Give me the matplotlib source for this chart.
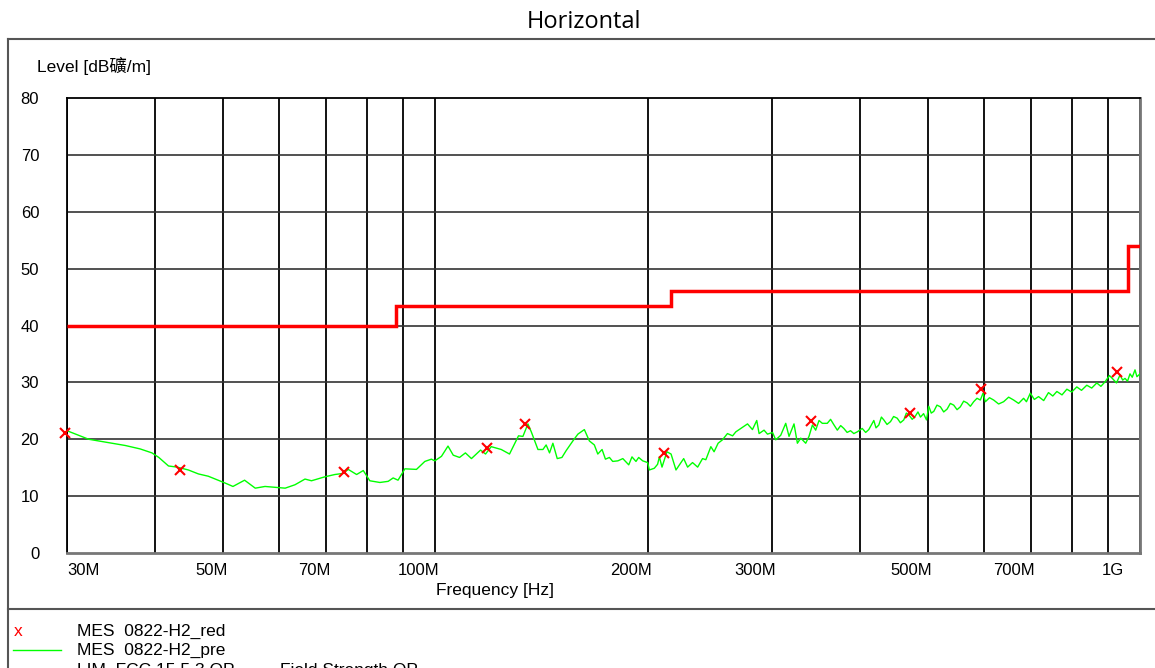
"""Horizontal radiated emission scan, 30 MHz - 1 GHz."""

import matplotlib

matplotlib.use("Agg")
import matplotlib.pyplot as plt
from matplotlib.lines import Line2D
from matplotlib.transforms import ScaledTranslation

# pre-scan trace (MHz, dB)
freq_mhz = [
    30.0, 32.2, 34.4, 36.3, 38.1, 39.6, 40.5, 41.8, 43.0, 44.6, 46.1, 47.6,
    50.3, 51.6, 53.6, 55.5, 56.7, 57.3, 61.2, 63.2, 65.3, 66.7, 69.7, 72.0,
    74.0, 75.2, 77.3, 79.0, 80.7, 83.4, 85.7, 87.1, 88.5, 90.5, 94.0, 96.6,
    98.7, 99.8, 102.0, 104.2, 106.0, 108.2, 110.3, 112.5, 115.9, 117.8,
    120.0, 124.0, 127.4, 131.2, 133.1, 135.3, 136.8, 139.8, 142.1, 143.6,
    145.2, 146.8, 148.9, 151.2, 153.3, 156.7, 159.3, 162.7, 165.4, 168.1,
    170.0, 172.4, 174.3, 176.6, 178.5, 181.5, 184.5, 188.1, 190.1, 192.6,
    194.3, 196.9, 200.1, 201.2, 204.5, 206.7, 207.9, 209.7, 213.1, 216.0,
    219.5, 225.1, 228.0, 231.7, 235.6, 239.4, 242.0, 246.0, 248.6, 251.9,
    255.5, 259.7, 264.1, 266.9, 271.3, 277.3, 281.8, 285.8, 288.0, 292.7,
    296.0, 300.9, 304.1, 309.1, 314.2, 317.6, 322.8, 326.4, 330.0, 335.4,
    339.0, 342.8, 346.5, 350.3, 354.1, 359.9, 363.8, 367.5, 371.9, 376.0,
    379.9, 384.0, 388.3, 392.5, 396.9, 403.4, 408.0, 412.2, 419.0, 422.0,
    425.9, 429.5, 432.9, 437.5, 442.5, 447.0, 452.3, 457.0, 462.1, 466.0,
    469.7, 475.0, 480.1, 484.0, 488.0, 493.0, 497.7, 501.4, 505.5, 509.7,
    515.0, 520.9, 526.5, 532.4, 538.0, 544.0, 550.0, 555.9, 562.0, 568.2,
    574.5, 580.7, 587.0, 593.5, 598.7, 603.3, 611.5, 619.8, 630.0, 640.4,
    651.0, 661.6, 672.5, 683.6, 690.0, 698.7, 708.0, 717.8, 730.0, 741.5,
    752.0, 762.1, 775.0, 787.4, 800.0, 813.4, 826.0, 840.4, 854.0, 868.3,
    880.0, 892.0, 905.0, 916.6, 926.0, 936.8, 945.0, 952.3, 960.0, 967.9,
    975.0, 983.8, 990.0, 1000.0,
]
level_db = [
    21.5, 20.0, 19.4, 18.9, 18.3, 17.6, 16.8, 15.3, 15.1, 14.6, 13.9, 13.5,
    12.3, 11.7, 12.8, 11.4, 11.6, 11.7, 11.4, 12.0, 13.0, 12.7, 13.4, 13.8,
    14.0, 14.7, 13.8, 14.5, 12.7, 12.4, 12.6, 13.2, 12.8, 14.8, 14.7, 16.1,
    16.5, 16.2, 17.0, 18.8, 17.2, 16.8, 17.6, 16.6, 18.1, 17.4,
    18.7, 18.2, 17.4, 20.6, 20.5, 22.7, 21.3, 18.2, 18.2, 19.0,
    17.6, 19.3, 16.6, 16.8, 18.0, 19.7, 20.9, 21.7, 19.7, 19.0,
    17.4, 18.2, 16.5, 16.8, 16.1, 16.2, 16.6, 15.5, 16.9, 16.1,
    16.8, 16.2, 15.9, 14.6, 14.9, 15.6, 16.9, 15.1, 17.8, 17.4,
    14.6, 16.6, 15.1, 15.9, 15.1, 16.6, 16.4, 18.7, 17.8, 19.3,
    19.9, 21.0, 20.6, 21.3, 21.9, 22.7, 21.7, 23.3, 21.0, 21.6,
    20.9, 21.2, 19.9, 20.7, 22.8, 20.5, 22.7, 19.3, 20.2, 19.3,
    20.5, 22.5, 21.6, 23.3, 22.8, 22.8, 23.5, 22.6, 21.6, 22.4,
    21.9, 21.2, 21.5, 21.0, 21.3, 21.9, 21.2, 21.7, 23.3, 22.0,
    22.5, 23.9, 23.4, 22.6, 23.1, 24.0, 23.7, 22.9, 23.4, 24.6,
    24.3, 23.5, 24.1, 24.8, 23.9, 24.5, 23.4, 25.8, 24.6, 24.9,
    26.0, 25.7, 24.8, 25.3, 26.3, 26.0, 25.2, 25.7, 26.7, 26.4,
    25.8, 26.6, 27.2, 26.9, 28.1, 26.6, 27.3, 26.9, 26.2, 26.6,
    27.4, 26.9, 26.3, 27.2, 26.6, 28.1, 27.0, 27.5, 26.8, 28.2,
    27.6, 28.4, 27.8, 28.8, 28.3, 29.2, 28.6, 29.5, 29.0, 29.9,
    29.3, 30.1, 31.2, 30.5, 29.9, 31.3, 30.4, 30.7, 30.2, 31.5,
    30.9, 32.2, 31.0, 31.5,
]

# final measurement points
marker_mhz = [29.8, 43.4, 74.1, 118.4, 134.0, 211.0, 341.0, 472.0, 595.0, 927.0]
marker_db = [21.1, 14.6, 14.2, 18.5, 22.7, 17.5, 23.2, 24.6, 28.8, 31.8]

# FCC 15 class B QP limit
limit_edges_mhz = [30, 88, 216, 960, 1000]
limit_db = [40, 43.5, 46, 54]

grid_mhz = [30, 40, 50, 60, 70, 80, 90, 100, 200, 300, 400, 500, 600, 700,
            800, 900, 1000]
tick_mhz = [30, 50, 70, 100, 200, 300, 500, 700, 1000]
tick_labels = ["30M", "50M", "70M", "100M", "200M", "300M", "500M", "700M", "1G"]

W, H = 1155, 668
SANS = ["Liberation Sans", "Noto Sans CJK SC", "DejaVu Sans"]
plt.rcParams["font.family"] = SANS
FS = 12.5

fig = plt.figure(figsize=(W / 100, H / 100), dpi=100)
ax = fig.add_axes([67 / W, 1 - 553 / H, (1140 - 67) / W, (553 - 98) / H])

ax.set_xscale("log")
ax.set_xlim(30, 1000)
ax.set_ylim(0, 80)

for f in grid_mhz:
    ax.axvline(f, color="black", lw=1.3, zorder=1)
for y in range(10, 80, 10):
    ax.axhline(y, color="#333333", lw=1.2, zorder=1)

ax.plot(freq_mhz, level_db, color="#00ff00", lw=1.0, zorder=3)
ax.stairs(limit_db, limit_edges_mhz, baseline=None, color="red", lw=2.5, zorder=4)
ax.plot(marker_mhz, marker_db, ls="none", marker="x", color="red", ms=7,
        mew=1.5, zorder=5, clip_on=False)

ax.xaxis.set_minor_locator(matplotlib.ticker.NullLocator())
ax.set_xticks(tick_mhz)
ax.set_xticklabels(tick_labels)
ax.set_yticks(range(0, 90, 10))
ax.tick_params(axis="both", length=0, labelsize=12)
ax.tick_params(axis="x", pad=7)
ax.tick_params(axis="y", pad=20)

for lab in ax.get_xticklabels():
    txt = lab.get_text()
    if txt == "30M":
        lab.set_ha("left")
        dx = 0
    elif txt == "1G":
        lab.set_ha("right")
        dx = -16
    else:
        lab.set_ha("right")
        dx = 4
    lab.set_transform(lab.get_transform() + ScaledTranslation(dx / 100, 0, fig.dpi_scale_trans))

for side in ("left", "top"):
    ax.spines[side].set_color("black")
    ax.spines[side].set_linewidth(1.3)
for side in ("right", "bottom"):
    ax.spines[side].set_color("#777777")
    ax.spines[side].set_linewidth(2.0)

# outer frame and legend separator
frame = dict(color="#555555", lw=1.5, transform=fig.transFigure)
fig.add_artist(Line2D([8 / W, 8 / W], [1 - 39 / H, 0], **frame))
fig.add_artist(Line2D([8 / W, 1], [1 - 39 / H, 1 - 39 / H], **frame))
fig.add_artist(Line2D([8 / W, 1], [1 - 609 / H, 1 - 609 / H], **frame))

fig.text(584 / W, 1 - 22 / H, "Horizontal", ha="center", va="center",
         fontsize=17, family=["Open Sans", "DejaVu Sans"])
fig.text(37 / W, 1 - 66 / H, "Level [dB礦/m]", ha="left", va="center", fontsize=FS)
fig.text(495 / W, 1 - 591 / H, "Frequency [Hz]", ha="center", va="center", fontsize=FS)

# legend block (last row is cut by the bottom edge, as in the source)
fig.text(18 / W, 1 - 632 / H, "x", color="red", ha="center", va="center", fontsize=FS)
fig.text(77 / W, 1 - 631 / H, "MES  0822-H2_red", ha="left", va="center", fontsize=FS)
fig.add_artist(Line2D([13 / W, 61 / W], [1 - 650 / H, 1 - 650 / H],
                      color="#00ff00", lw=1.0, transform=fig.transFigure))
fig.text(77 / W, 1 - 650 / H, "MES  0822-H2_pre", ha="left", va="center", fontsize=FS)
fig.text(77 / W, 1 - 670 / H, "LIM  FCC 15.5.3 QP", ha="left", va="center", fontsize=FS)
fig.text(280 / W, 1 - 670 / H, "Field Strength QP", ha="left", va="center", fontsize=FS)

fig.savefig("out.png", dpi=100)
